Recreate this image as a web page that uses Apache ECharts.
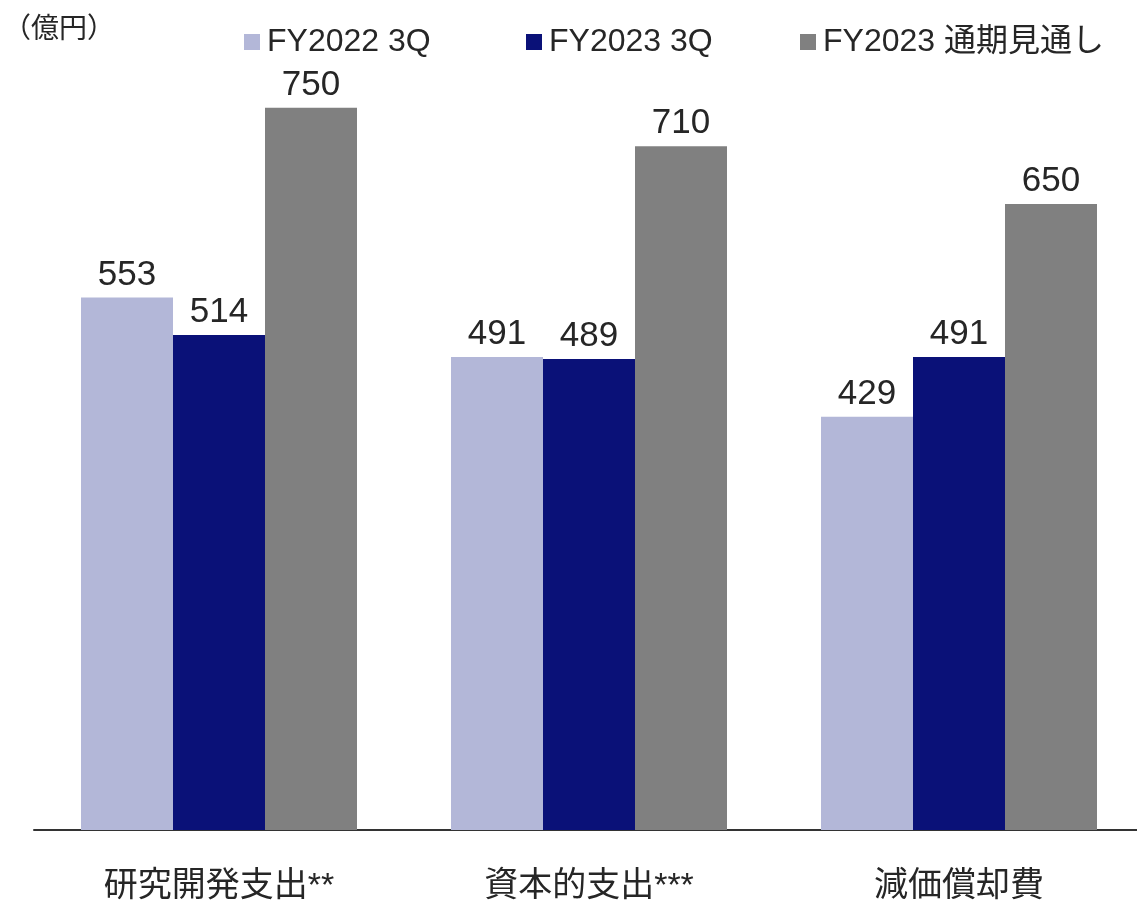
<!DOCTYPE html>
<html>
<head>
<meta charset="utf-8">
<script src="https://cdn.jsdelivr.net/npm/echarts@6/dist/echarts.min.js"></script>
<style>
html,body{margin:0;padding:0;background:#fff;overflow:hidden;}
#chart{width:1144px;height:904px;}
</style>
</head>
<body>
<div id="chart"></div>
<script>
var categories = ['研究開発支出**', '資本的支出***', '減価償却費'];
var seriesNames = ['FY2022 3Q', 'FY2023 3Q', 'FY2023 通期見通し'];
var fy2022_3q = [553, 491, 429];
var fy2023_3q = [514, 489, 491];
var fy2023_full = [750, 710, 650];
var unitLabel = '（億円）';

var FONT = "'Liberation Sans', Arial, 'Noto Sans CJK JP', sans-serif";
var TXT = '#262626';
var colors = ['#b3b7d8', '#0a1178', '#808080'];

function makeSeries(name, data, color) {
  return {
    name: name,
    type: 'bar',
    data: data,
    barWidth: 92,
    barGap: '0%',
    itemStyle: { color: color },
    label: {
      show: true,
      position: 'top',
      distance: 5,
      fontSize: 35,
      fontFamily: FONT,
      color: TXT
    },
    emphasis: { disabled: true }
  };
}

function makeLegend(name, left) {
  return {
    data: [name],
    left: left,
    top: 21,
    itemWidth: 16,
    itemHeight: 16,
    icon: 'rect',
    textStyle: { fontSize: 32, fontFamily: FONT, color: TXT, padding: [0, 0, 0, 2] },
    selectedMode: false
  };
}

var chart = echarts.init(document.getElementById('chart'), null, { renderer: 'canvas' });
chart.setOption({
  animation: false,
  backgroundColor: '#fff',
  title: {
    text: unitLabel,
    left: 3,
    top: 16,
    padding: 0,
    textStyle: { fontSize: 28, fontWeight: 'normal', fontFamily: FONT, color: TXT }
  },
  legend: [
    makeLegend(seriesNames[0], 239),
    makeLegend(seriesNames[1], 521),
    makeLegend(seriesNames[2], 795)
  ],
  grid: { left: 34, right: 0, top: 59.5, bottom: 69, containLabel: false },
  xAxis: {
    type: 'category',
    data: categories,
    axisLine: { show: true, lineStyle: { color: '#333', width: 2 } },
    axisTick: { show: false },
    axisLabel: { fontSize: 34, fontFamily: FONT, color: TXT, margin: 40 }
  },
  yAxis: {
    type: 'value',
    min: 0,
    max: 800,
    show: false,
    splitLine: { show: false }
  },
  series: [
    makeSeries(seriesNames[0], fy2022_3q, colors[0]),
    makeSeries(seriesNames[1], fy2023_3q, colors[1]),
    makeSeries(seriesNames[2], fy2023_full, colors[2])
  ]
});
</script>
</body>
</html>
